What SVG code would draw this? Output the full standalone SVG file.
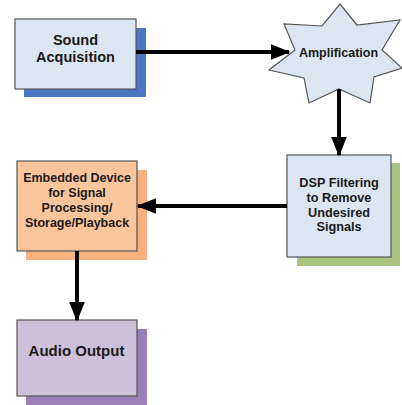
<svg xmlns="http://www.w3.org/2000/svg" width="402" height="405" viewBox="0 0 402 405">
<style>
.box{stroke:#555;stroke-width:1.2}
.t{font-family:"Liberation Sans",Arial,sans-serif;font-weight:bold;fill:#1a1a1a;text-anchor:middle}
.c{stroke:#000;stroke-width:4;fill:none}
</style>
<defs>
<marker id="ah" markerWidth="5" markerHeight="4" refX="4.6" refY="2" orient="auto" markerUnits="strokeWidth">
<path d="M0,0 L5,2 L0,4 Z" fill="#000"/>
</marker>
</defs>
<rect width="402" height="405" fill="#fff"/>
<g id="sound">
<rect x="24" y="28" width="122" height="69" fill="#4a76c2"/>
<rect class="box" x="15" y="19" width="121" height="70" fill="#dce6f2"/>
<text class="t" x="75.5" y="45" font-size="14.5">Sound</text>
<text class="t" x="75.5" y="62" font-size="14.5">Acquisition</text>
</g>
<g id="amp">
<polygon class="box" fill="#dce6f2" points="340,4 357,25 400,20 382,50 402,68 374,77 370,103 339,89 309,103 304,78 269,70 295,50 284,24 322,26"/>
<text class="t" x="338.5" y="57" font-size="12.5">Amplification</text>
</g>
<g id="dsp">
<rect x="297" y="163" width="103" height="103" fill="#a9c47f"/>
<rect class="box" x="287" y="155" width="104" height="102" fill="#dce6f2"/>
<text class="t" x="339" y="187" font-size="12.7">DSP Filtering</text>
<text class="t" x="339" y="202" font-size="12.7">to Remove</text>
<text class="t" x="339" y="216.5" font-size="12.7">Undesired</text>
<text class="t" x="339" y="231" font-size="12.7">Signals</text>
</g>
<g id="embedded">
<rect x="26" y="170" width="121" height="90" fill="#f7b27f"/>
<rect class="box" x="17" y="161" width="120" height="90" fill="#fbc59b"/>
<text class="t" x="77" y="182" font-size="12.5">Embedded Device</text>
<text class="t" x="77" y="197" font-size="12.5">for Signal</text>
<text class="t" x="77" y="212" font-size="12.5">Processing/</text>
<text class="t" x="77" y="227" font-size="12.5">Storage/Playback</text>
</g>
<g id="audio">
<rect x="26" y="329" width="121" height="76" fill="#9a80b5"/>
<rect class="box" x="17" y="320" width="120" height="76" fill="#ccc0da"/>
<text class="t" x="76.5" y="356" font-size="15">Audio Output</text>
</g>
<g id="connectors">
<line class="c" x1="136" y1="52" x2="289" y2="52" marker-end="url(#ah)"/>
<line class="c" x1="339" y1="89" x2="339" y2="155" marker-end="url(#ah)"/>
<line class="c" x1="287" y1="206" x2="138" y2="206" marker-end="url(#ah)"/>
<line class="c" x1="77" y1="251" x2="77" y2="320" marker-end="url(#ah)"/>
</g>
</svg>
